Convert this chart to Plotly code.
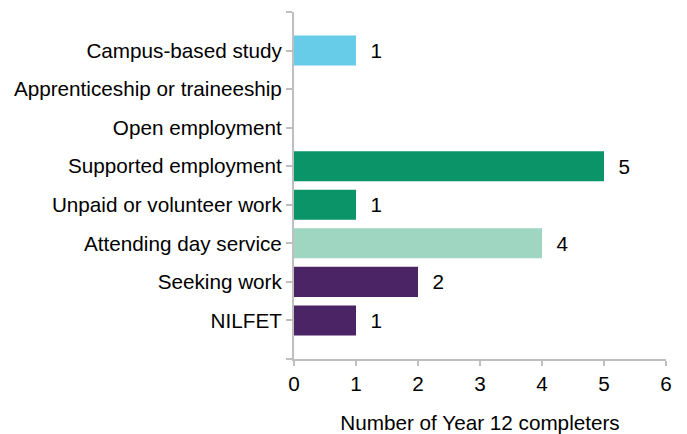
import plotly.graph_objects as go

categories = ["Campus-based study", "Apprenticeship or traineeship", "Open employment",
              "Supported employment", "Unpaid or volunteer work", "Attending day service",
              "Seeking work", "NILFET"]
values = [1, 0, 0, 5, 1, 4, 2, 1]
colors = ["#66CCE8", "#0A9467", "#0A9467", "#0A9467", "#0A9467", "#9ED6C1", "#4B2466", "#4B2466"]
x_ticks = [0, 1, 2, 3, 4, 5, 6]
x_title = "Number of Year 12 completers"

positions = list(range(len(categories)))
labels = ["  " + str(v) if v else "" for v in values]

FONT = "Liberation Sans, Arial, sans-serif"
FS = 20.7
AXIS_COLOR = "#BFBFBF"

fig = go.Figure(go.Bar(
    x=values, y=positions, orientation="h",
    marker=dict(color=colors, line=dict(width=0)),
    width=0.78,
    text=labels, textposition="outside", cliponaxis=False,
    textfont=dict(family=FONT, size=FS, color="#000000"),
    hoverinfo="skip",
))

# page body has a default 8px margin, so the figure is sized/offset to compensate
fig.update_layout(
    width=679, height=426,
    margin=dict(l=286, r=21, t=4, b=75),
    plot_bgcolor="white", paper_bgcolor="white",
    font=dict(family=FONT, size=FS, color="#000000"),
    showlegend=False,
    xaxis=dict(
        range=[0, 6], tickvals=x_ticks, ticktext=[str(t) for t in x_ticks],
        showgrid=False, zeroline=False, automargin=False,
        showline=True, linecolor=AXIS_COLOR, linewidth=2,
        ticks="outside", ticklen=5, tickwidth=2, tickcolor=AXIS_COLOR,
        tickfont=dict(family=FONT, size=FS, color="#000000"),
        title=dict(text=x_title, standoff=23, font=dict(family=FONT, size=FS, color="#000000")),
    ),
    yaxis=dict(
        range=[8, -1],
        tickvals=[-1] + positions + [8],
        ticktext=[""] + categories + [""],
        showgrid=False, zeroline=False, automargin=False,
        showline=True, linecolor=AXIS_COLOR, linewidth=2,
        ticks="outside", ticklen=6, tickwidth=2, tickcolor=AXIS_COLOR,
        tickfont=dict(family=FONT, size=FS, color="#000000"),
    ),
)

fig.write_html("out.html")
